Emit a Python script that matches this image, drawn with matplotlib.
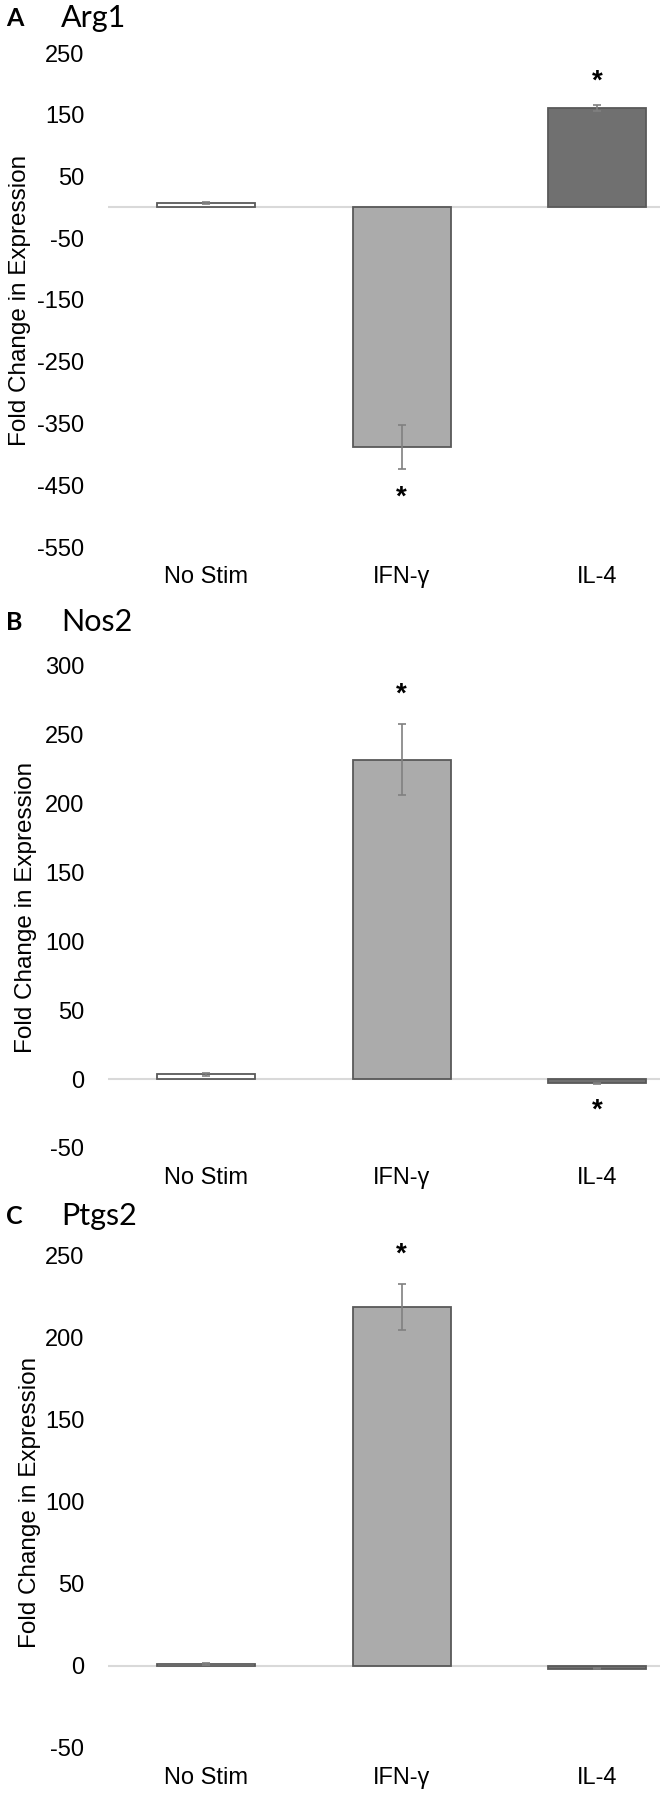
import matplotlib
matplotlib.use("Agg")
import matplotlib.pyplot as plt

plt.rcParams["axes.unicode_minus"] = False

# categories shared by all three panels
categories = ["No Stim", "IFN-\u03b3", "IL-4"]

# Arg1
arg1_values = [7, -388, 161]
arg1_errors = [1.5, 36, 5]
arg1_stars = [None, -470, 204]

# Nos2
nos2_values = [3.6, 232, -3]
nos2_errors = [1, 26, 0.5]
nos2_stars = [None, 279, -23]

# Ptgs2
ptgs2_values = [1.2, 219, -1.6]
ptgs2_errors = [0.4, 14, 0.3]
ptgs2_stars = [None, 251, None]

bar_colors = ["#ffffff", "#ababab", "#707070"]
edge_color = "#595959"

W, H = 660, 1800
fig = plt.figure(figsize=(W / 100, H / 100), dpi=100)

tick_font = "Liberation Sans"
title_font = "Lato"


def draw_panel(top, bottom, title_y, label_x, letter, title, values, errors,
               stars, yticks):
    ax = fig.add_axes([108 / W, 1 - bottom / H, (660 - 108) / W, (bottom - top) / H])
    x = range(len(categories))
    ax.bar(x, values, width=0.5, color=bar_colors, edgecolor=edge_color,
           linewidth=1.3, zorder=3)
    ax.errorbar(x, values, yerr=errors, fmt="none", ecolor="#808080",
                elinewidth=1.2, capsize=3, capthick=1.2, zorder=4)
    for i, s in enumerate(stars):
        if s is not None:
            ax.text(i, s, "*", ha="center", va="center", fontsize=20,
                    fontweight="bold", family=tick_font, clip_on=False)
    ax.axhline(0, color="#d9d9d9", linewidth=1.5, zorder=2)
    ax.set_xlim(-0.5, 2.32)
    ax.set_ylim(yticks[0], yticks[-1])
    ax.set_yticks(yticks)
    ax.set_xticks(list(x))
    ax.set_xticklabels(categories)
    for sp in ax.spines.values():
        sp.set_visible(False)
    ax.tick_params(axis="both", length=0, labelsize=17)
    ax.tick_params(axis="y", pad=17)
    ax.tick_params(axis="x", pad=14)
    for lab in ax.get_xticklabels() + ax.get_yticklabels():
        lab.set_family(tick_font)
    ax.set_ylabel("Fold Change in Expression", fontsize=17.5, family=tick_font)
    ax.yaxis.set_label_coords(label_x, 0.5)
    fig.text(6 / W, 1 - title_y / H, letter, fontsize=18, fontweight="bold",
             family=title_font, va="center")
    fig.text(61 / W, 1 - title_y / H, title, fontsize=22,
             family=title_font, va="center")
    return ax


draw_panel(53, 547, 18, -0.14, "A", "Arg1", arg1_values, arg1_errors,
           arg1_stars, list(range(-550, 251, 100)))
draw_panel(666, 1148, 622, -0.128, "B", "Nos2", nos2_values, nos2_errors,
           nos2_stars, list(range(-50, 301, 50)))
draw_panel(1256, 1748, 1216, -0.122, "C", "Ptgs2", ptgs2_values, ptgs2_errors,
           ptgs2_stars, list(range(-50, 251, 50)))

fig.savefig("out.png", dpi=100)
